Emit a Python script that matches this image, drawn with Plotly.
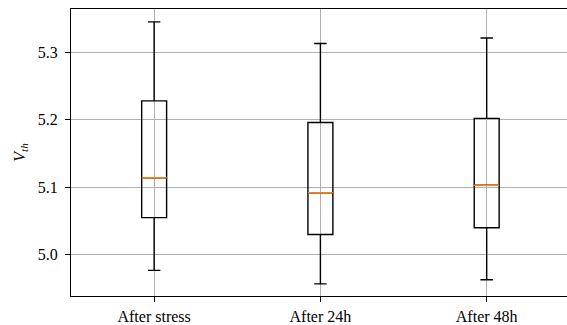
import plotly.graph_objects as go

categories = ["After stress", "After 24h", "After 48h"]
positions = [1, 2, 3]
lower_whisker = [4.977, 4.957, 4.963]
q1 = [5.055, 5.030, 5.040]
median = [5.114, 5.092, 5.103]
q3 = [5.228, 5.196, 5.202]
upper_whisker = [5.345, 5.313, 5.321]
y_ticks = [5.0, 5.1, 5.2, 5.3]

BOX_W = 0.15
fig = go.Figure()
for i, p in enumerate(positions):
    fig.add_trace(go.Box(
        x=[p], q1=[q1[i]], median=[median[i]], q3=[q3[i]],
        lowerfence=[lower_whisker[i]], upperfence=[upper_whisker[i]],
        width=BOX_W, whiskerwidth=0.5,
        line=dict(color="black", width=1.4),
        fillcolor="rgba(0,0,0,0)", showlegend=False, hoverinfo="skip",
    ))
    fig.add_trace(go.Box(
        x=[p], q1=[median[i]], median=[median[i]], q3=[median[i]],
        lowerfence=[median[i]], upperfence=[median[i]],
        width=BOX_W, whiskerwidth=0,
        line=dict(color="#ff7f0e", width=1.4),
        fillcolor="rgba(0,0,0,0)", showlegend=False, hoverinfo="skip",
    ))

font = dict(family="Liberation Serif", size=16, color="black")
fig.update_layout(
    width=567, height=325,
    margin=dict(l=71, r=0, t=9, b=29, autoexpand=False),
    plot_bgcolor="white", paper_bgcolor="white",
    boxmode="overlay", font=font, showlegend=False,
)
fig.update_xaxes(
    range=[0.5, 3.483], tickvals=positions, ticktext=categories,
    showgrid=True, gridcolor="#b0b0b0", gridwidth=1.1,
    showline=True, linecolor="black", linewidth=1.2, mirror=True,
    ticks="outside", ticklen=5, tickwidth=1.1, tickcolor="black",
    zeroline=False, tickfont=font, ticklabelstandoff=1,
)
fig.update_yaxes(
    range=[4.939, 5.364], tickvals=y_ticks, ticktext=[f"{v:.1f}" for v in y_ticks],
    showgrid=True, gridcolor="#b0b0b0", gridwidth=1.1,
    showline=True, linecolor="black", linewidth=1.2, mirror=False,
    ticks="outside", ticklen=5, tickwidth=1.1, tickcolor="black",
    zeroline=False, tickfont=font, ticklabelstandoff=4,
    title=dict(text="<i>V</i><sub><i>th</i></sub>", font=font, standoff=8),
)
fig.write_html("out.html", config={"displayModeBar": False},
               post_script="document.body.style.margin='0';document.body.style.overflow='hidden';")
